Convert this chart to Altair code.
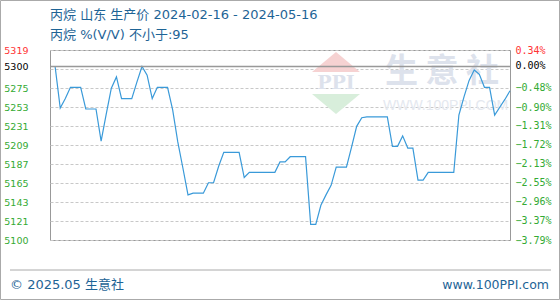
import altair as alt
import pandas as pd

# ---- data ----
start_date = "2024-02-16"
end_date = "2024-05-16"
dates = [d.strftime("%Y-%m-%d") for d in pd.date_range(start_date, end_date, freq="D")]
prices = [
    5300, 5300, 5252, 5263, 5276, 5276, 5276, 5251, 5251, 5251,
    5214, 5245, 5275, 5288, 5263, 5263, 5263, 5282, 5300, 5290,
    5263, 5276, 5276, 5276, 5250, 5213, 5183, 5152, 5154, 5154,
    5154, 5166, 5166, 5185, 5201, 5201, 5201, 5201, 5172, 5178,
    5178, 5178, 5178, 5178, 5178, 5190, 5190, 5196, 5196, 5196,
    5196, 5118, 5118, 5140, 5152, 5163, 5184, 5184, 5184, 5207,
    5231, 5241, 5242, 5242, 5242, 5242, 5242, 5208, 5208, 5220,
    5206, 5206, 5169, 5169, 5178, 5178, 5178, 5178, 5178, 5178,
    5244, 5265, 5284, 5296, 5291, 5276, 5276, 5244, 5253, 5262,
    5272,
]
base_price = 5300
y_min, y_max = 5100, 5319
left_ticks = [5100, 5121.9, 5143.8, 5165.7, 5187.6, 5209.5, 5231.4, 5253.3, 5275.2, 5297.1, 5300, 5319]
pct_min, pct_max = -3.79, 0.34
right_ticks = [0.34, 0.0, -0.48, -0.90, -1.31, -1.72, -2.13, -2.55, -2.96, -3.37, -3.79]
x_tick_dates = ["2024-02-16", "2024-02-25", "2024-03-05", "2024-03-14", "2024-03-23",
                "2024-04-01", "2024-04-10", "2024-04-19", "2024-04-28", "2024-05-07", "2024-05-16"]

title_text = ["丙烷 山东 生产价 2024-02-16 - 2024-05-16"]
subtitle_text = ["丙烷 %(V/V)  不小于:95"]
footer_left = ["© 2025.05 生意社"]
footer_right = ["www.100PPI.com"]
wm_big = ["生  意  社"]
wm_small = ["WWW.100PPI.COM"]
wm_ppi = ["PPI"]

df = pd.DataFrame({"date": dates, "price": prices})

W, H = 460, 190
BLUE = "#1e6496"
MIXED = "DejaVu Sans, Noto Sans CJK SC"

def dt(s):
    y, m, d = map(int, s.split("-"))
    return alt.DateTime(year=y, month=m, date=d, utc=True)

x_enc = alt.X(
    "date:T",
    scale=alt.Scale(type="utc", domain=[dt(start_date), dt(end_date)], nice=False),
    axis=alt.Axis(
        values=[dt(s) for s in x_tick_dates],
        format="%m/%d",
        formatType="utc",
        title=None,
        grid=True,
        gridColor="#c8c8c8",
        gridDash=[3, 2],
        ticks=False,
        domain=False,
        labelFont="DejaVu Sans Mono",
        labelFontSize=10,
        labelColor="#1c4f80",
        labelPadding=11,
        labelOverlap=False,
        labelFlush=False,
    ),
)

line = alt.Chart(df).mark_line(color="#3a9ad9", strokeWidth=1.2, interpolate="linear").encode(
    x=x_enc,
    y=alt.Y(
        "price:Q",
        scale=alt.Scale(domain=[y_min, y_max], nice=False, zero=False),
        axis=alt.Axis(
            values=left_ticks,
            title=None,
            grid=True,
            gridColor="#c8c8c8",
            gridDash=[3, 2],
            ticks=False,
            domain=False,
            labelExpr="(datum.value > 5296 && datum.value < 5299) ? '' : format(floor(datum.value), 'd')",
            labelFont="DejaVu Sans",
            labelFontSize=9.5,
            labelPadding=22,
            labelOverlap=False,
            labelFlush=False,
            labelColor={
                "condition": [
                    {"test": "datum.value > 5310", "value": "#ff3333"},
                    {"test": "datum.value > 5298", "value": "#000000"},
                ],
                "value": "#33aa33",
            },
        ),
    ),
)

right = alt.Chart(df).transform_calculate(
    pct=f"{pct_min} + (datum.price - {y_min}) / ({y_max} - {y_min}) * ({pct_max} - ({pct_min}))"
).mark_line(opacity=0).encode(
    x=alt.X("date:T", scale=alt.Scale(type="utc", domain=[dt(start_date), dt(end_date)], nice=False), axis=None),
    y=alt.Y(
        "pct:Q",
        scale=alt.Scale(domain=[pct_min, pct_max], nice=False, zero=False),
        axis=alt.Axis(
            orient="right",
            values=right_ticks,
            title=None,
            grid=False,
            ticks=False,
            domain=False,
            labelExpr="format(datum.value, '.2f') + '%'",
            labelFont="DejaVu Sans Mono",
            labelFontSize=10,
            labelPadding=5,
            labelOverlap=False,
            labelFlush=False,
            labelColor={
                "condition": [
                    {"test": "datum.value > 0.1", "value": "#ff3333"},
                    {"test": "abs(datum.value) < 0.01", "value": "#000000"},
                ],
                "value": "#33aa33",
            },
        ),
    ),
)

base_rule = alt.Chart(pd.DataFrame({"p": [base_price]})).mark_rule(color="#999999", strokeWidth=1.5).encode(
    y=alt.Y("p:Q", scale=alt.Scale(domain=[y_min, y_max], nice=False, zero=False), axis=None)
)

# watermark
wm1 = alt.Chart(pd.DataFrame({"t": wm_big})).mark_text(
    font="Noto Sans CJK SC", fontSize=33, fontWeight="bold", color="#dde2ec", align="left", baseline="middle"
).encode(text="t:N", x=alt.value(335), y=alt.value(22))
wm2 = alt.Chart(pd.DataFrame({"t": wm_small})).mark_text(
    font="Liberation Sans", fontSize=14, color="#e4e8ef", align="left", baseline="middle"
).encode(text="t:N", x=alt.value(333), y=alt.value(56))
wm_up = alt.Chart(pd.DataFrame({"t": wm_ppi})).mark_point(
    shape="M -1 0.42 L 0 -0.42 L 1 0.42 Z", filled=True, color="#f6d2d2", opacity=1, size=2300
).encode(x=alt.value(286), y=alt.value(12))
wm_dn = alt.Chart(pd.DataFrame({"t": wm_ppi})).mark_point(
    shape="M -1 -0.42 L 0 0.42 L 1 -0.42 Z", filled=True, color="#d8eedb", opacity=1, size=2300
).encode(x=alt.value(286), y=alt.value(54))
wm3 = alt.Chart(pd.DataFrame({"t": wm_ppi})).mark_text(
    font="DejaVu Serif", fontSize=19, fontWeight="bold", color="#dde2ec", align="center", baseline="middle"
).encode(text="t:N", x=alt.value(286), y=alt.value(33))

# titles
t1 = alt.Chart(pd.DataFrame({"t": title_text})).mark_text(
    font=MIXED, fontSize=13, color=BLUE, align="left", baseline="middle"
).encode(text="t:N", x=alt.value(0), y=alt.value(-35))
t2 = alt.Chart(pd.DataFrame({"t": subtitle_text})).mark_text(
    font=MIXED, fontSize=13, color=BLUE, align="left", baseline="middle"
).encode(text="t:N", x=alt.value(0), y=alt.value(-15))

# footer
f_rule = alt.Chart(pd.DataFrame({"t": footer_left})).mark_rule(color="#aaaaaa", strokeWidth=1).encode(
    x=alt.value(-40), x2=alt.value(501), y=alt.value(220)
)
f1 = alt.Chart(pd.DataFrame({"t": footer_left})).mark_text(
    font=MIXED, fontSize=13, color=BLUE, align="left", baseline="middle"
).encode(text="t:N", x=alt.value(-40), y=alt.value(235))
f2 = alt.Chart(pd.DataFrame({"t": footer_right})).mark_text(
    font="DejaVu Sans", fontSize=12.5, color=BLUE, align="right", baseline="middle"
).encode(text="t:N", x=alt.value(499), y=alt.value(235))
border = alt.Chart(pd.DataFrame({"t": footer_left})).mark_rect(
    fill=None, stroke="#aaaaaa", strokeWidth=1
).encode(x=alt.value(-49.5), x2=alt.value(509.5), y=alt.value(-49.5), y2=alt.value(249.5))

chart = alt.layer(
    wm_up, wm_dn, wm3, wm1, wm2, line, right, base_rule, t1, t2, f_rule, f1, f2, border
).resolve_scale(
    y="independent"
).properties(
    width=W, height=H,
    padding={"left": 50, "top": 50, "right": 50, "bottom": 60},
    autosize=alt.AutoSizeParams(type="none"),
    background="white",
).configure_view(
    stroke="#999999", strokeWidth=1
)

chart.save("out.html", embed_options={"renderer": "svg", "actions": False})
